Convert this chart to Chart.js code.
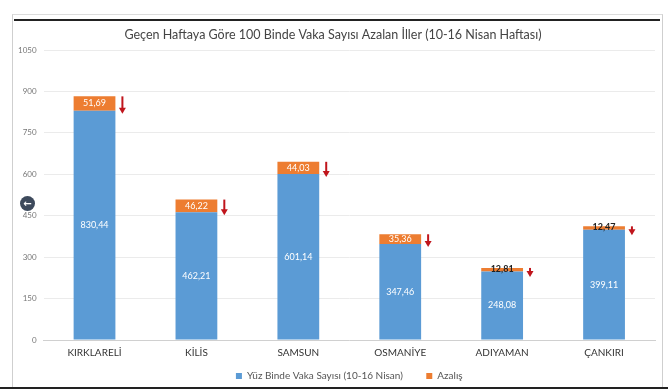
<!DOCTYPE html>
<html>
<head>
<meta charset="utf-8">
<script src="https://cdn.jsdelivr.net/npm/chart.js@4.4.1/dist/chart.umd.min.js"></script>
<style>
  html, body { margin: 0; padding: 0; background: #fff; }
  #wrap { position: relative; width: 668px; height: 392px; overflow: hidden; }
  #frame { position: absolute; left: 12px; top: 14px; width: 649px; height: 374px;
           border-left: 1px solid #cfcfcf; border-right: 1px solid #cfcfcf; border-top: 1px solid #dcdcdc; }
  #topline { position: absolute; left: 14px; top: 19px; width: 646px; height: 2px; background: #222; }
  #bottomline { position: absolute; left: 0; top: 387px; width: 668px; height: 2px; background: #222; }
  #back { position: absolute; left: 20px; top: 196px; width: 15px; height: 15px; border-radius: 50%;
          background: #3d4a5c; color: #fff; font: bold 10px "DejaVu Sans"; line-height: 15px; text-align: center; }
  canvas { position: absolute; left: 0; top: 0; }
</style>
</head>
<body>
<div id="wrap">
  <div id="frame"></div>
  <div id="topline"></div>
  <div id="bottomline"></div>
  <canvas id="chart" width="668" height="392"></canvas>
  <div id="back">&#8592;</div>
</div>
<script>
// values
const provinces = ['KIRKLARELİ', 'KİLİS', 'SAMSUN', 'OSMANİYE', 'ADIYAMAN', 'ÇANKIRI'];
const casesPer100k = [830.44, 462.21, 601.14, 347.46, 248.08, 399.11];
const decrease = [51.69, 46.22, 44.03, 35.36, 12.81, 12.47];
const yTicks = [0, 150, 300, 450, 600, 750, 900, 1050];

const fontFamily = 'Lato, "Open Sans", sans-serif';

function fmt(v) {
    return v.toFixed(2).replace('.', ',');
}

// labels inside the bars and the little red arrows
const barLabels = {
    id: 'barLabels',
    afterDatasetsDraw(chart) {
        const ctx = chart.ctx;
        const yScale = chart.scales.y;
        const blueMeta = chart.getDatasetMeta(0);
        const orangeMeta = chart.getDatasetMeta(1);
        ctx.save();
        ctx.textAlign = 'center';
        ctx.textBaseline = 'middle';
        blueMeta.data.forEach((bar, i) => {
            ctx.font = '9px ' + fontFamily;
            ctx.fillStyle = '#ffffff';
            ctx.fillText(fmt(casesPer100k[i]), bar.x, (bar.y + bar.base) / 2);

            const ob = orangeMeta.data[i];
            const segH = ob.base - ob.y;
            if (segH > 8) {
                ctx.fillStyle = '#ffffff';
                ctx.fillText(fmt(decrease[i]), ob.x, (ob.y + ob.base) / 2);
            } else {
                ctx.fillStyle = '#222222';
                ctx.font = 'bold 9px ' + fontFamily;
                ctx.fillText(fmt(decrease[i]), ob.x, ob.y + 1);
            }

            // red arrow to the right of the bar
            const ax = ob.x + ob.width / 2 + 7;
            const top = yScale.getPixelForValue(casesPer100k[i] + decrease[i]);
            const len = Math.max(9, segH + 3);
            ctx.strokeStyle = '#c0151c';
            ctx.fillStyle = '#c0151c';
            ctx.lineWidth = 2;
            ctx.beginPath();
            ctx.moveTo(ax, top);
            ctx.lineTo(ax, top + len - 4);
            ctx.stroke();
            ctx.beginPath();
            ctx.moveTo(ax - 3.5, top + len - 6);
            ctx.lineTo(ax + 3.5, top + len - 6);
            ctx.lineTo(ax, top + len);
            ctx.closePath();
            ctx.fill();
        });
        ctx.restore();
    }
};

const ctx = document.getElementById('chart').getContext('2d');
new Chart(ctx, {
    type: 'bar',
    data: {
        labels: provinces,
        datasets: [{
            label: 'Yüz Binde Vaka Sayısı (10-16 Nisan)      ',
            data: casesPer100k,
            backgroundColor: '#5b9bd5',
            barPercentage: 0.41,
            categoryPercentage: 1
        }, {
            label: 'Azalış',
            data: decrease,
            backgroundColor: '#ed7d31',
            barPercentage: 0.41,
            categoryPercentage: 1
        }]
    },
    options: {
        responsive: false,
        animation: false,
        layout: { padding: { left: 11, right: 13, top: 23, bottom: 1 } },
        plugins: {
            title: {
                display: true,
                text: 'Geçen Haftaya Göre 100 Binde Vaka Sayısı Azalan İller (10-16 Nisan Haftası)',
                color: '#444',
                font: { family: fontFamily, size: 12.5, weight: 'normal' },
                padding: { top: 4, bottom: 8 }
            },
            legend: {
                position: 'bottom',
                fullSize: false,
                labels: {
                    color: '#555',
                    font: { family: fontFamily, size: 10 },
                    boxWidth: 6,
                    boxHeight: 6,
                    padding: 8
                }
            },
            tooltip: { enabled: false }
        },
        scales: {
            x: {
                stacked: true,
                grid: { display: false, drawTicks: false },
                border: { color: '#d0d0d0' },
                ticks: { color: '#333', font: { family: fontFamily, size: 10 }, padding: 7 },
                afterFit: (axis) => { axis.height -= 3; }
            },
            y: {
                stacked: true,
                min: 0,
                max: 1050,
                afterBuildTicks: (axis) => { axis.ticks = yTicks.map(v => ({ value: v })); },
                grid: { color: '#ebebeb', drawTicks: false },
                border: { display: false },
                ticks: {
                    color: '#777',
                    font: { family: fontFamily, size: 8 },
                    padding: 7,
                    callback: (v) => String(v)
                }
            }
        }
    },
    plugins: [barLabels]
});
</script>
</body>
</html>
